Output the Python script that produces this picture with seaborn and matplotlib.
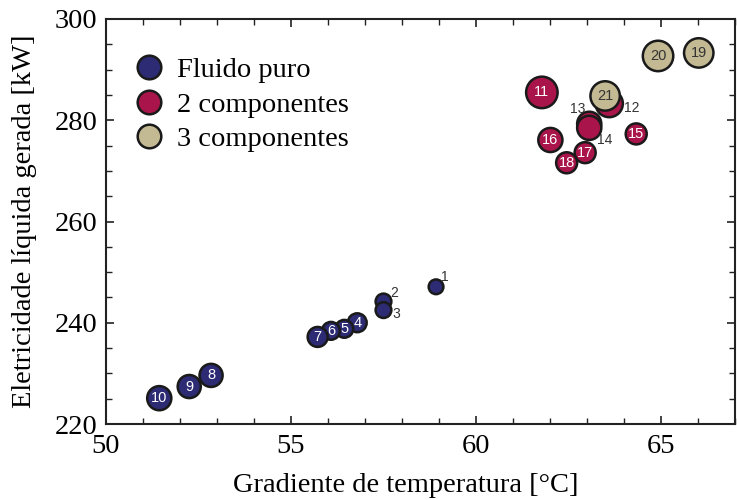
import matplotlib
matplotlib.use("Agg")
import matplotlib.pyplot as plt
from matplotlib.lines import Line2D
from matplotlib.ticker import MultipleLocator
import seaborn as sns
import pandas as pd

# ---- data ----
ids = list(range(1, 22))
gradient = [58.92, 57.50, 57.50, 56.79, 56.44, 56.08, 55.72, 52.84, 52.25, 51.44,
            61.78, 63.60, 63.06, 63.06, 64.33, 62.01, 62.95, 62.45,
            66.02, 64.92, 63.49]
power = [247.1, 244.2, 242.5, 240.0, 238.8, 238.4, 237.2, 229.6, 227.4, 225.1,
         285.5, 283.3, 279.3, 278.5, 277.3, 276.1, 273.6, 271.6,
         293.3, 292.7, 284.8]
group = (["Fluido puro"] * 10 + ["2 componentes"] * 8 + ["3 componentes"] * 3)
diameter_px = [14, 15, 15, 18, 17, 17, 19, 22, 22, 23,
               30, 26, 23, 23, 20, 23, 20, 20,
               28, 29, 28]
outside_labels = {1: (6, 7), 2: (8, 6), 3: (9, -3), 12: (16, -3), 13: (-8, 11), 14: (11, -9)}

categories = ["Fluido puro", "2 componentes", "3 componentes"]
colors = ["#2C2B74", "#A9154A", "#C3B993"]

df = pd.DataFrame({"id": ids, "x": gradient, "y": power, "group": group,
                   "area": [(d * 0.72 * 1.05) ** 2 for d in diameter_px]})

fig, ax = plt.subplots(figsize=(7.37, 5.0), dpi=100)
fig.subplots_adjust(left=0.1438, right=0.9973, bottom=0.152, top=0.962)

amin, amax = df["area"].min(), df["area"].max()
sns.scatterplot(data=df, x="x", y="y", hue="group", hue_order=categories,
                palette=dict(zip(categories, colors)), size="area",
                sizes=(amin, amax), size_norm=(amin, amax),
                edgecolor="#1a1a1a", linewidth=1.8, legend=False, ax=ax, zorder=3)

for _, r in df.iterrows():
    i = int(r["id"])
    if i in outside_labels:
        dx, dy = outside_labels[i]
        ax.annotate(str(i), (r["x"], r["y"]), xytext=(dx, dy), textcoords="offset points",
                    ha="center", va="center", fontsize=10, color="#333333",
                    family="Liberation Sans", zorder=5)
    else:
        tc = "#333333" if r["group"] == "3 componentes" else "white"
        ax.text(r["x"], r["y"], str(i), ha="center", va="center", fontsize=10.5,
                color=tc, family="Liberation Sans", zorder=5)

ax.set_xlim(50, 67)
ax.set_ylim(220, 300)
ax.xaxis.set_major_locator(MultipleLocator(5))
ax.xaxis.set_minor_locator(MultipleLocator(1))
ax.yaxis.set_major_locator(MultipleLocator(20))
ax.yaxis.set_minor_locator(MultipleLocator(5))
ax.tick_params(which="both", direction="in", top=True, right=True, color="#222222")
ax.tick_params(which="major", length=6, width=1.2, labelsize=20.5)
ax.tick_params(axis="x", which="major", pad=7)
ax.tick_params(axis="y", which="major", pad=6)
ax.tick_params(which="minor", length=4, width=1.0)
for lab in ax.get_xticklabels() + ax.get_yticklabels():
    lab.set_family("Liberation Serif")
for s in ax.spines.values():
    s.set_linewidth(1.5)
    s.set_color("#222222")

ax.set_xlabel("Gradiente de temperatura [°C]", fontsize=20.5, family="Liberation Serif", labelpad=10)
ax.xaxis.label.set_x(0.477)
ax.set_ylabel("Eletricidade líquida gerada [kW]", fontsize=20.5, family="Liberation Serif", labelpad=13)

handles = [Line2D([0], [0], marker="o", linestyle="", markersize=17,
                  markerfacecolor=c, markeredgecolor="#1a1a1a", markeredgewidth=1.8)
           for c in colors]
ax.legend(handles, categories, loc="upper left", bbox_to_anchor=(0.005, 0.948),
          frameon=False, prop={"family": "Liberation Serif", "size": 20.5},
          handletextpad=0.2, labelspacing=0.3, borderaxespad=0.2, handlelength=1.6)

fig.savefig("out.png", dpi=100)
